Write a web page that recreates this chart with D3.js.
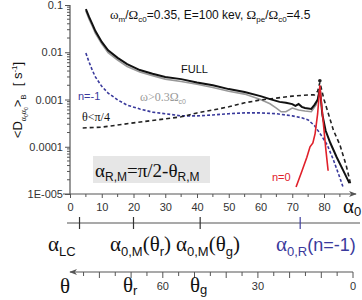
<!DOCTYPE html>
<html>
<head>
<meta charset="utf-8">
<script src="https://d3js.org/d3.v7.min.js"></script>
<style>
  body { margin: 0; background: #fff; }
  svg { font-family: Arial, "Liberation Sans", sans-serif; }
  .serif { font-family: "Liberation Serif", "Times New Roman", serif; }
</style>
</head>
<body>
<script>
// pitch angle (deg) and bounce averaged diffusion coefficient [s^-1]
var fullAlpha = [5, 6, 7, 8, 10, 12, 15, 18, 22, 26, 30, 35, 40, 45, 50, 55, 60, 63, 66, 68, 70, 71, 72, 73, 74, 76, 77, 78, 78.7, 79.5, 80.5, 82, 84, 86, 88];
var fullVals = [0.082, 0.056, 0.04, 0.028, 0.0165, 0.011, 0.0076, 0.0056, 0.0042, 0.0035, 0.003, 0.0027, 0.0023, 0.002, 0.00166, 0.00144, 0.00118, 0.00102, 0.00089, 0.00085, 0.0008, 0.00073, 0.0008, 0.0007, 0.00066, 0.00063, 0.00077, 0.00098, 0.0017, 0.00047, 0.00022, 0.00012, 0.00006, 0.000032, 0.000017];

var grayAlpha = [5, 6, 7, 8, 10, 12, 15, 18, 22, 26, 30, 35, 40, 45, 50, 55, 60, 63, 65, 66.5, 68, 70, 72, 74, 76, 77.5, 78.7];
var grayVals = [0.075, 0.05, 0.036, 0.025, 0.015, 0.0098, 0.0068, 0.005, 0.0038, 0.0032, 0.0027, 0.0024, 0.0021, 0.0018, 0.0015, 0.0013, 0.001, 0.00081, 0.00066, 0.00055, 0.00055, 0.00066, 0.0006, 0.00057, 0.00055, 0.00077, 0.0015];

var thetaAlpha = [4, 10, 20, 30, 35, 40, 45, 50, 55, 60, 65, 70, 75, 77, 78, 78.7, 80, 81.5, 83, 85, 87, 88.5];
var thetaVals = [0.00025, 0.00026, 0.00032, 0.00039, 0.00043, 0.00052, 0.0006, 0.0007, 0.00085, 0.00098, 0.00107, 0.00118, 0.00125, 0.00125, 0.0015, 0.0023, 0.001, 0.00047, 0.00022, 0.00011, 0.00004, 0.000015];

var nm1Alpha = [5, 6, 7, 8, 10, 12, 15, 18, 22, 26, 30, 35, 40, 45, 50, 55, 60, 65, 70, 73, 75, 77, 79, 81, 83, 85, 86];
var nm1Vals = [0.0096, 0.0062, 0.0042, 0.003, 0.0019, 0.00137, 0.00098, 0.00076, 0.00063, 0.00054, 0.0005, 0.00045, 0.00045, 0.00047, 0.0005, 0.00052, 0.00052, 0.0005, 0.00045, 0.00041, 0.00037, 0.00028, 0.00018, 0.00011, 0.000052, 0.000022, 0.000014];

var n0Alpha = [71.2, 73, 74.6, 75.6, 76.5, 77.2, 78, 78.7, 79.2, 79.7, 80.6, 81.3];
var n0Vals = [0.000014, 0.00003, 0.00006, 0.0001, 0.00012, 0.00019, 0.0005, 0.002, 0.0008, 0.00037, 0.000085, 0.000031];

var yTicks = [0.1, 0.01, 0.001, 0.0001, 0.00001];
var yTickLabels = ['0.1', '0.01', '0.001', '0.0001', '1E-005'];
var xTicks = [0, 10, 20, 30, 40, 50, 60, 70, 80];
var markAlpha = [3, 20, 41, 72.5];
var thetaTicks = [60, 30, 0];

var width = 362, height = 300;
var svg = d3.select('body').append('svg')
  .attr('width', width)
  .attr('height', height);

var x = d3.scaleLinear().domain([0, 90]).range([70, 355.75]);
var y = d3.scaleLog().domain([1e-5, 0.1]).range([194, 5]);
var xt = d3.scaleLinear().domain([90, 0]).range([67.7, 353]);

var axisColor = '#555';

svg.append('defs').append('marker')
  .attr('id', 'arr')
  .attr('viewBox', '0 0 10 10')
  .attr('refX', 9).attr('refY', 5)
  .attr('markerWidth', 8).attr('markerHeight', 8)
  .attr('markerUnits', 'userSpaceOnUse')
  .attr('orient', 'auto')
  .append('path')
  .attr('d', 'M0,1 L10,5 L0,9 L3,5 Z')
  .attr('fill', axisColor);

// y axis
var yAxis = d3.axisLeft(y)
  .tickValues(yTicks)
  .tickFormat(function(d, i) { return yTickLabels[i]; })
  .tickSize(5)
  .tickPadding(2);
var gy = svg.append('g').attr('transform', 'translate(70,0)').call(yAxis);
gy.select('.domain').remove();
gy.selectAll('line').attr('stroke', axisColor);
gy.selectAll('text').attr('font-size', 11).attr('fill', '#333');

var minor = [];
yTicks.slice(1).forEach(function(d) {
  for (var k = 2; k <= 9; k++) minor.push(d * k);
});
svg.append('g').selectAll('line').data(minor).enter().append('line')
  .attr('x1', 67).attr('x2', 70)
  .attr('y1', function(d) { return y(d); })
  .attr('y2', function(d) { return y(d); })
  .attr('stroke', axisColor);
svg.append('line').attr('x1', 70).attr('x2', 70).attr('y1', y(0.1)).attr('y2', y(1e-5))
  .attr('stroke', axisColor).attr('stroke-width', 1.2);

// x axis
svg.append('line').attr('x1', 63).attr('x2', 356).attr('y1', 194).attr('y2', 194)
  .attr('stroke', axisColor).attr('stroke-width', 1.2).attr('marker-end', 'url(#arr)');
var xAxis = d3.axisBottom(x).tickValues(xTicks).tickSize(4).tickPadding(5);
var gx = svg.append('g').attr('transform', 'translate(0,194)').call(xAxis);
gx.select('.domain').remove();
gx.selectAll('line').attr('stroke', axisColor);
gx.selectAll('text').attr('font-size', 11).attr('fill', '#333');
svg.append('g').selectAll('line').data(d3.range(5, 90, 10)).enter().append('line')
  .attr('x1', function(d) { return x(d); }).attr('x2', function(d) { return x(d); })
  .attr('y1', 194).attr('y2', 197)
  .attr('stroke', axisColor);

// characteristic angle axis
svg.append('line').attr('x1', 67).attr('x2', 360).attr('y1', 223).attr('y2', 223)
  .attr('stroke', axisColor).attr('stroke-width', 1.2);
svg.append('g').selectAll('line').data(markAlpha).enter().append('line')
  .attr('x1', function(d) { return x(d); }).attr('x2', function(d) { return x(d); })
  .attr('y1', 217).attr('y2', 229)
  .attr('stroke', function(d, i) { return i === 3 ? '#4040a0' : '#333'; })
  .attr('stroke-width', 1.2);

// theta axis
svg.append('line').attr('x1', 353).attr('x2', 70).attr('y1', 272).attr('y2', 272)
  .attr('stroke', axisColor).attr('stroke-width', 1.2).attr('marker-end', 'url(#arr)');
svg.append('g').selectAll('line').data(d3.range(0, 90, 5)).enter().append('line')
  .attr('x1', function(d) { return xt(d); }).attr('x2', function(d) { return xt(d); })
  .attr('y1', 272).attr('y2', function(d) { return d % 10 === 0 ? 278 : 276; })
  .attr('stroke', axisColor);
svg.append('g').selectAll('text').data(thetaTicks).enter().append('text')
  .attr('x', function(d) { return xt(d); })
  .attr('y', 290)
  .attr('text-anchor', 'middle')
  .attr('font-size', 11)
  .attr('fill', '#333')
  .text(function(d) { return d; });

// curves
var line = d3.line()
  .x(function(d) { return x(d[0]); })
  .y(function(d) { return y(d[1]); });
function pairs(a, v) { return a.map(function(d, i) { return [d, v[i]]; }); }

svg.append('path').datum(pairs(grayAlpha, grayVals)).attr('d', line)
  .attr('fill', 'none').attr('stroke', '#999').attr('stroke-width', 1.6);
svg.append('path').datum(pairs(nm1Alpha, nm1Vals)).attr('d', line)
  .attr('fill', 'none').attr('stroke', '#3a3a9c').attr('stroke-width', 1.6)
  .attr('stroke-dasharray', '3,2');
svg.append('path').datum(pairs(thetaAlpha, thetaVals)).attr('d', line)
  .attr('fill', 'none').attr('stroke', '#222').attr('stroke-width', 1.6)
  .attr('stroke-dasharray', '4,3');
svg.append('path').datum(pairs(fullAlpha, fullVals)).attr('d', line)
  .attr('fill', 'none').attr('stroke', '#111').attr('stroke-width', 2);
svg.append('path').datum(pairs(n0Alpha, n0Vals)).attr('d', line)
  .attr('fill', 'none').attr('stroke', '#e0202a').attr('stroke-width', 1.6);
svg.append('circle').attr('cx', x(78.7)).attr('cy', y(0.0025)).attr('r', 1.8).attr('fill', '#222');

// labels
function t(xx, yy, size, color, cls) {
  return svg.append('text').attr('x', xx).attr('y', yy)
    .attr('font-size', size).attr('fill', color).attr('class', cls || null);
}

var title = t(110, 19, 12, '#111');
title.append('tspan').attr('class', 'serif').attr('font-size', 13).text('ω');
title.append('tspan').attr('dy', 3).attr('font-size', 8).text('m');
title.append('tspan').attr('dy', -3).text('/');
title.append('tspan').attr('class', 'serif').attr('font-size', 13).text('Ω');
title.append('tspan').attr('dy', 3).attr('font-size', 8).text('c0');
title.append('tspan').attr('dy', -3).text('=0.35, E=100 kev, ');
title.append('tspan').attr('class', 'serif').attr('font-size', 13).text('Ω');
title.append('tspan').attr('dy', 3).attr('font-size', 8).text('pe');
title.append('tspan').attr('dy', -3).text('/');
title.append('tspan').attr('class', 'serif').attr('font-size', 13).text('Ω');
title.append('tspan').attr('dy', 3).attr('font-size', 8).text('c0');
title.append('tspan').attr('dy', -3).text('=4.5');

t(181, 73, 11, '#111').text('FULL');
var g3 = t(140, 101, 11, '#999');
g3.append('tspan').attr('class', 'serif').attr('font-size', 12).text('ω>0.3Ω');
g3.append('tspan').attr('dy', 3).attr('font-size', 7).text('c0');
t(78, 100, 11, '#3a3a9c').text('n=-1');
var th = t(82, 121, 11, '#111');
th.append('tspan').attr('class', 'serif').attr('font-size', 12).text('θ<π/4');
t(272, 181, 11, '#e0202a').text('n=0');

// box
svg.append('rect').attr('x', 93).attr('y', 156).attr('width', 117).attr('height', 27).attr('fill', '#e6e6e6');
var bx = t(95, 177, 19, '#111', 'serif');
bx.text('α');
bx.append('tspan').attr('dy', 4).attr('font-size', 12).attr('font-family', 'Arial, sans-serif').text('R,M');
bx.append('tspan').attr('dy', -4).text('=π/2-θ');
bx.append('tspan').attr('dy', 4).attr('font-size', 12).attr('font-family', 'Arial, sans-serif').text('R,M');

// alpha0 axis label
var a0 = t(343, 213, 21, '#111', 'serif');
a0.text('α');
a0.append('tspan').attr('dy', 3).attr('font-size', 13).attr('font-family', 'Arial, sans-serif').text('0');

// characteristic angles
function greek(xx, yy, color, parts) {
  var el = t(xx, yy, 21, color, 'serif');
  parts.forEach(function(p) {
    var s = el.append('tspan').text(p.s);
    if (p.sub) s.attr('dy', p.dy || 5).attr('font-size', 13).attr('font-family', 'Arial, sans-serif');
    if (p.up) s.attr('dy', -5);
    if (p.sans) s.attr('font-family', 'Arial, sans-serif').attr('font-size', 18);
  });
  return el;
}
greek(48, 251, '#111', [{s: 'α'}, {s: 'LC', sub: true}]);
greek(110, 251, '#111', [{s: 'α'}, {s: '0,M', sub: true}, {s: '(θ', up: true}, {s: 'r', sub: true}, {s: ')', up: true}]);
greek(176, 251, '#111', [{s: 'α'}, {s: '0,M', sub: true}, {s: '(θ', up: true}, {s: 'g', sub: true}, {s: ')', up: true}]);
greek(276, 251, '#3a3a9c', [{s: 'α'}, {s: '0,R', sub: true}, {s: '(n=-1)', up: true, sans: true}]);

greek(60, 293, '#111', [{s: 'θ'}]);
greek(123, 292, '#111', [{s: 'θ'}, {s: 'r', sub: true, dy: 3}]);
greek(190, 292, '#111', [{s: 'θ'}, {s: 'g', sub: true, dy: 2}]);

// y label
var yl = svg.append('text')
  .attr('transform', 'translate(22,100) rotate(-90)')
  .attr('text-anchor', 'middle')
  .attr('font-size', 13).attr('fill', '#111');
yl.append('tspan').text('<D');
yl.append('tspan').attr('dy', 4).attr('font-size', 8).attr('class', 'serif').text('α');
yl.append('tspan').attr('dy', 2).attr('font-size', 5).text('0');
yl.append('tspan').attr('dy', -2).attr('font-size', 8).attr('class', 'serif').text('α');
yl.append('tspan').attr('dy', 2).attr('font-size', 5).text('0');
yl.append('tspan').attr('dy', -6).text('>');
yl.append('tspan').attr('dy', 4).attr('font-size', 8).text('B');
yl.append('tspan').attr('dy', -4).attr('dx', 8).text('[ s');
yl.append('tspan').attr('dy', -5).attr('font-size', 8).text('-1');
yl.append('tspan').attr('dy', 5).text(']');
</script>
</body>
</html>
